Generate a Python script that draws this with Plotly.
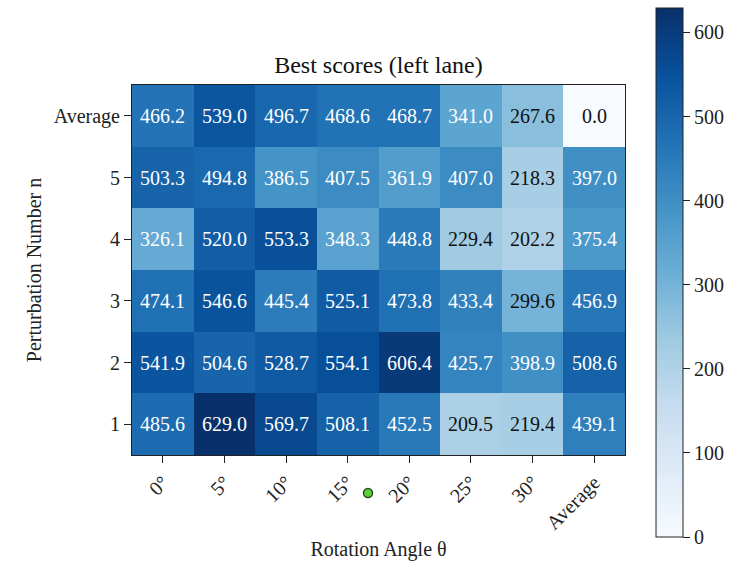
import plotly.graph_objects as go
import plotly.colors as pc

angles = ["0°", "5°", "10°", "15°", "20°", "25°", "30°", "Average"]
perturbations = ["1", "2", "3", "4", "5", "Average"]

# rows listed bottom (n=1) to top (Average)
row_1 = [485.6, 629.0, 569.7, 508.1, 452.5, 209.5, 219.4, 439.1]
row_2 = [541.9, 504.6, 528.7, 554.1, 606.4, 425.7, 398.9, 508.6]
row_3 = [474.1, 546.6, 445.4, 525.1, 473.8, 433.4, 299.6, 456.9]
row_4 = [326.1, 520.0, 553.3, 348.3, 448.8, 229.4, 202.2, 375.4]
row_5 = [503.3, 494.8, 386.5, 407.5, 361.9, 407.0, 218.3, 397.0]
row_avg = [466.2, 539.0, 496.7, 468.6, 468.7, 341.0, 267.6, 0.0]

z = [row_1, row_2, row_3, row_4, row_5, row_avg]
zmax = max(max(r) for r in z)

blues = pc.sequential.Blues
scale = [[i / (len(blues) - 1), c] for i, c in enumerate(blues)]

FONT = "Liberation Serif, Times New Roman, serif"
INK = "#222"

fig = go.Figure(go.Heatmap(
    z=z, x=angles, y=perturbations,
    colorscale=scale, zmin=0, zmax=zmax,
    colorbar=dict(
        x=1.0629, xanchor="left", xpad=0,
        y=0.4932, yanchor="middle", ypad=0,
        thickness=27, len=529, lenmode="pixels",
        outlinewidth=1, outlinecolor=INK,
        ticks="outside", ticklen=7, tickcolor=INK,
        tickvals=[0, 100, 200, 300, 400, 500, 600],
        tickfont=dict(family=FONT, size=20, color=INK),
    ),
    hoverinfo="skip",
))

# cell labels: light text on dark cells, dark text on light cells
annotations = []
for yi, row in enumerate(z):
    for xi, v in enumerate(row):
        annotations.append(dict(
            x=xi, y=yi, xref="x", yref="y", text=f"{v:.1f}",
            showarrow=False,
            font=dict(family=FONT, size=20,
                      color="white" if v > zmax / 2 else "#111"),
        ))

fig.update_layout(
    width=733, height=563,
    margin=dict(l=132, r=108, t=85, b=108, autoexpand=False),
    paper_bgcolor="white", plot_bgcolor="white",
    title=dict(text="Best scores (left lane)", x=0.5163, xanchor="center",
               y=0.8845, yanchor="middle",
               font=dict(family=FONT, size=24, color="#111")),
    annotations=annotations,
    font=dict(family=FONT, color=INK),
    shapes=[dict(
        type="circle", xref="paper", yref="paper",
        xsizemode="pixel", ysizemode="pixel",
        xanchor=0.4787, yanchor=-0.1027,
        x0=-4.5, x1=4.5, y0=-4.5, y1=4.5,
        fillcolor="#5cd03c", line=dict(color="#2a4a20", width=1.5),
    )],
)

fig.update_xaxes(
    type="category", automargin=False,
    tickangle=-45, ticks="outside", ticklen=7, tickcolor=INK,
    showline=True, linecolor=INK, linewidth=1, mirror=True,
    tickfont=dict(family=FONT, size=20, color=INK),
    title=dict(text="Rotation Angle θ", standoff=8,
               font=dict(family=FONT, size=20, color=INK)),
)
fig.update_yaxes(
    type="category", automargin=False,
    ticks="outside", ticklen=7, tickcolor=INK,
    showline=True, linecolor=INK, linewidth=1, mirror=True,
    tickfont=dict(family=FONT, size=20, color=INK),
    title=dict(text="Perturbation Number n", standoff=6,
               font=dict(family=FONT, size=20, color=INK)),
)

fig.write_html("out.html")
